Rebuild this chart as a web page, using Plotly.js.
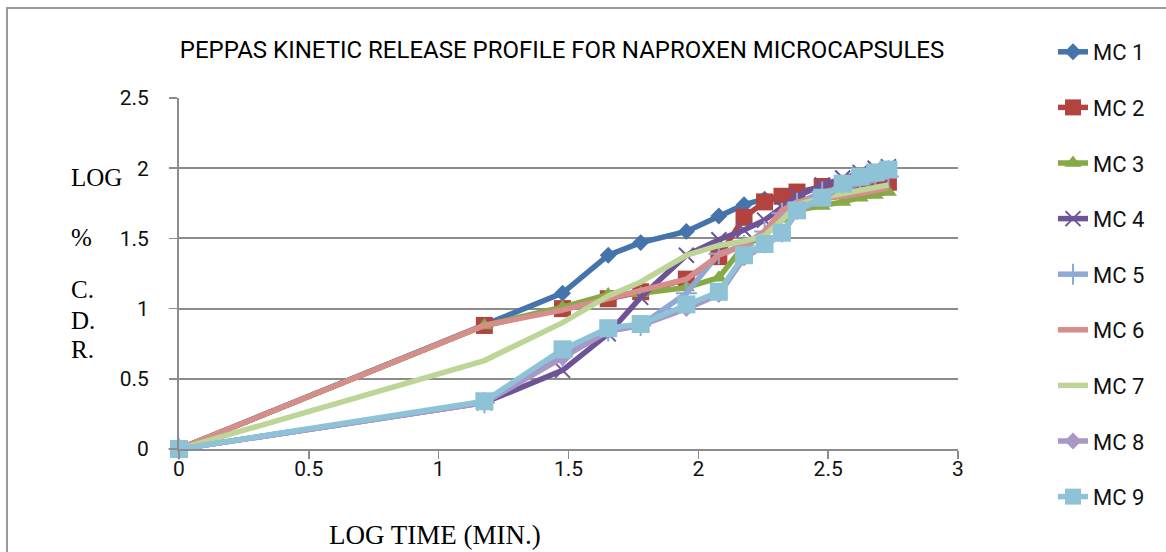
<!DOCTYPE html>
<html>
<head>
<meta charset="utf-8">
<script src="https://cdn.plot.ly/plotly-3.0.1.min.js"></script>
<style>
  html, body { margin: 0; padding: 0; background: #fff; overflow: hidden; }
  #wrap { position: relative; width: 1166px; height: 552px; }
  #chart { width: 1166px; height: 552px; }
  #frame { position: absolute; left: 6px; top: 7px; width: 1300px; height: 700px;
           border-left: 2px solid #9a9a9a; border-top: 2px solid #9a9a9a; pointer-events: none; }
</style>
</head>
<body>
<div id="wrap">
  <div id="chart"></div>
  <div id="frame"></div>
</div>
<script>
// Log time (min.)
const logTime = [0, 1.176, 1.477, 1.653, 1.778, 1.954, 2.079, 2.176, 2.255, 2.322, 2.380, 2.477, 2.556, 2.623, 2.681, 2.732];

// Log % C.D.R. per formulation
const mc1 = [0, 0.88, 1.11, 1.38, 1.47, 1.55, 1.66, 1.74, 1.78, 1.80, 1.83, 1.86, 1.88, 1.90, 1.92, 1.94];
const mc2 = [0, 0.88, 1.00, 1.07, 1.12, 1.21, 1.37, 1.65, 1.76, 1.80, 1.83, 1.87, 1.88, 1.89, 1.89, 1.90];
const mc3 = [0, 0.88, 1.01, 1.10, 1.11, 1.15, 1.22, 1.45, 1.52, 1.64, 1.70, 1.73, 1.76, 1.79, 1.81, 1.83];
const mc4 = [0, 0.33, 0.56, 0.82, 1.08, 1.38, 1.49, 1.56, 1.63, 1.72, 1.80, 1.88, 1.93, 1.97, 2.00, 2.01];
const mc5 = [0, 0.33, 0.66, 0.84, 0.88, 1.11, 1.39, 1.45, 1.55, 1.68, 1.75, 1.83, 1.86, 1.89, 1.92, 1.94];
const mc6 = [0, 0.88, 0.99, 1.07, 1.12, 1.21, 1.38, 1.45, 1.55, 1.70, 1.76, 1.78, 1.80, 1.82, 1.84, 1.86];
const mc7 = [0, 0.63, 0.90, 1.09, 1.19, 1.38, 1.45, 1.48, 1.52, 1.63, 1.74, 1.79, 1.82, 1.84, 1.86, 1.88];
const mc8 = [0, 0.33, 0.65, 0.84, 0.88, 1.00, 1.10, 1.36, 1.45, 1.53, 1.69, 1.78, 1.88, 1.94, 1.97, 2.00];
const mc9 = [0, 0.34, 0.71, 0.86, 0.89, 1.03, 1.12, 1.38, 1.46, 1.54, 1.70, 1.79, 1.89, 1.94, 1.97, 1.99];

const names = ['MC 1', 'MC 2', 'MC 3', 'MC 4', 'MC 5', 'MC 6', 'MC 7', 'MC 8', 'MC 9'];
const series = [mc1, mc2, mc3, mc4, mc5, mc6, mc7, mc8, mc9];

const colors = ['#4573AB', '#B3433F', '#86AA45', '#6E5497', '#8FA9D6', '#D58E8C', '#BDD597', '#A898C6', '#8EC3D7'];
const symbols = ['diamond', 'square', 'triangle-up', 'x-thin-open', 'cross-thin-open', null, null, 'diamond', 'square'];
const sizes = [13, 17, 15, 15, 15, 0, 0, 13, 18];

const traces = series.map((ys, i) => {
  const t = {
    x: logTime, y: ys, name: names[i], type: 'scatter',
    mode: symbols[i] ? 'lines+markers' : 'lines',
    line: { color: colors[i], width: 5.5 },
    legendgroup: 'g' + i,
    cliponaxis: false
  };
  if (symbols[i]) {
    t.marker = { symbol: symbols[i], size: sizes[i], color: colors[i],
                 line: { color: colors[i], width: symbols[i].includes('thin') ? 2 : 0 } };
  }
  return t;
});

const yTitleLines = [['LOG', 177], ['%', 237], ['C.', 289], ['D.', 320], ['R.', 349]];
const plotTop = 98, plotBottom = 449, plotLeft = 179, plotRight = 958;
const ph = plotBottom - plotTop, pw = plotRight - plotLeft;

const annotations = yTitleLines.map(([txt, py]) => ({
  text: txt, xref: 'paper', yref: 'paper', showarrow: false,
  x: (69 - plotLeft) / pw, y: (plotBottom - py) / ph,
  xanchor: 'left', yanchor: 'middle',
  font: { family: 'Liberation Serif, Times New Roman, serif', size: 25, color: '#000' }
}));
annotations.push({
  text: 'LOG TIME (MIN.)', xref: 'paper', yref: 'paper', showarrow: false,
  x: (435 - plotLeft) / pw, y: (plotBottom - 535) / ph,
  xanchor: 'center', yanchor: 'middle',
  font: { family: 'Liberation Serif, Times New Roman, serif', size: 27, color: '#000' }
});

const layout = {
  width: 1166, height: 552,
  margin: { l: plotLeft, r: 1166 - plotRight, t: plotTop, b: 552 - plotBottom, pad: 0 },
  paper_bgcolor: '#fff', plot_bgcolor: '#fff',
  showlegend: true,
  title: {
    text: 'PEPPAS KINETIC RELEASE PROFILE FOR NAPROXEN MICROCAPSULES',
    xref: 'container', yref: 'container', x: 562 / 1166, xanchor: 'center',
    y: 1 - 50 / 552, yanchor: 'middle',
    font: { family: 'Roboto, Arial, sans-serif', size: 24, color: '#000' }
  },
  xaxis: {
    range: [0, 3], tickvals: [0, 0.5, 1, 1.5, 2, 2.5, 3], ticktext: ['0', '0.5', '1', '1.5', '2', '2.5', '3'],
    showgrid: false, zeroline: false, showline: true, linecolor: '#8c8c8c', linewidth: 2,
    ticks: 'outside', ticklen: 8, tickwidth: 1.5, tickcolor: '#8c8c8c',
    ticklabelstandoff: -8,
    tickfont: { family: 'Roboto, Arial, sans-serif', size: 21, color: '#111' }
  },
  yaxis: {
    range: [0, 2.5], tickvals: [0, 0.5, 1, 1.5, 2, 2.5], ticktext: ['0', '0.5', '1', '1.5', '2', '2.5'],
    showgrid: true, gridcolor: '#8c8c8c', gridwidth: 2,
    zeroline: false, showline: true, linecolor: '#8c8c8c', linewidth: 2,
    ticks: 'outside', ticklen: 8, tickwidth: 1.5, tickcolor: '#8c8c8c',
    ticklabelstandoff: 16,
    tickfont: { family: 'Roboto, Arial, sans-serif', size: 21, color: '#111' }
  },
  legend: {
    x: (1053 - plotLeft) / pw, xanchor: 'left',
    y: (plotBottom - 31) / ph, yanchor: 'top',
    traceorder: 'grouped', tracegroupgap: 24,
    maxheight: 552,
    bgcolor: 'rgba(0,0,0,0)',
    font: { family: 'Roboto, Arial, sans-serif', size: 22, color: '#111' }
  },
  annotations: annotations
};

Plotly.newPlot('chart', traces, layout, { displayModeBar: false, staticPlot: true });
</script>
</body>
</html>
